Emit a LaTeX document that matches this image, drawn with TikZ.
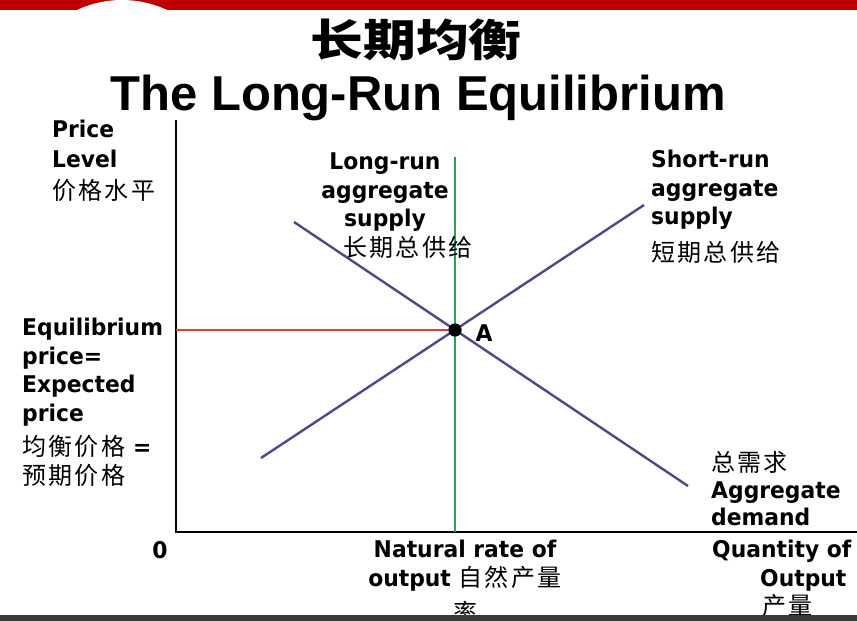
\documentclass[tikz,border=0pt]{standalone}
\usepackage{fontspec}
\setmainfont{DejaVu Sans}[FakeStretch=0.95]
\newfontfamily\cjk{Noto Sans CJK SC}[LetterSpace=10]
\newfontfamily\cjkwide{Noto Sans CJK SC}[FakeStretch=1.2]
\newfontfamily\heading{Liberation Sans}
\usepackage{tikz}
\usetikzlibrary{positioning}
\definecolor{bandred}{HTML}{C00000}
\definecolor{curveblue}{HTML}{4A4A8C}
\definecolor{lrgreen}{HTML}{2E9E5E}
\definecolor{eqred}{HTML}{E2402E}
\definecolor{bargray}{HTML}{3A3A3A}
\newcommand{\zh}[1]{{\fontsize{24}{28.5}\selectfont\cjk\mdseries #1}}

\begin{document}
\begin{tikzpicture}[x=1pt,y=-1pt,
  lbl/.style={align=left,inner sep=0pt,font=\fontsize{23}{28.5}\selectfont\bfseries},
  axis/.style={line width=2pt},
  curve/.style={draw=curveblue,line width=2.4pt},
  dot/.style={circle,fill=black,inner sep=0pt,minimum size=13pt}]
\useasboundingbox (0,0) rectangle (857,621);
% header band
\fill[bandred] (0,0) rectangle (857,10);
\begin{scope}
  \clip (0,0) rectangle (857,10);
  \fill[white] (122,106) circle (106pt);
\end{scope}
\node[inner sep=0pt,font=\fontsize{44}{46}\selectfont\cjkwide\bfseries] (zhtitle) at (416,40) {长期均衡};
\node[inner sep=0pt,anchor=base,font=\fontsize{49}{50}\selectfont\heading\bfseries] (title) at (418,110) {The Long-Run Equilibrium};
% axes
\coordinate (o) at (176,532);
\coordinate (ytop) at (176,120);
\coordinate (xend) at (857,532);
\draw[axis] (ytop) -- (o) -- (xend);
% curves
\coordinate (adtop) at (294,222);
\coordinate (adbot) at (688,486);
\coordinate (astop) at (644,205);
\coordinate (asbot) at (261,458);
\coordinate (lrtop) at (455,157);
\draw[curve] (adtop) -- (adbot);
\draw[curve] (asbot) -- (astop);
\node[dot] (A) at (455,330) {};
\draw[lrgreen,line width=2pt] (lrtop) -- (lrtop |- o);
\draw[eqred,line width=2pt] (ytop |- A) -- (A.center);
\node[dot] at (A) {};
\node[font=\fontsize{23}{24}\selectfont\bfseries] (alab) at (484,333) {A};
\node[font=\fontsize{23}{24}\selectfont\bfseries] (zero) at (160,550) {0};
% labels
\node[lbl,anchor=north west] (plevel) at (52,120) {Price\\[1.5pt]Level\\[3pt]\zh{价格水平}};
\node[lbl,align=center,anchor=north] (lras) at (385,153) {Long-run\\aggregate\\supply};
\node[lbl,anchor=north west] (lrascn) at (343,236) {\zh{长期总供给}};
\node[lbl,anchor=north west] (sras) at (651,150) {Short-run\\aggregate\\supply\\[8pt]\zh{短期总供给}};
\node[lbl,anchor=north west] (peq) at (22,318) {Equilibrium\\price=\\Expected\\price\\[6pt]\zh{均衡价格} =\\\zh{预期价格}};
\node[lbl,anchor=north west] (ad) at (711,451) {\zh{总需求}\\[-1.5pt]Aggregate\\[-1.5pt]demand};
\node[lbl,align=center,anchor=north] (yn) at (465,540) {Natural rate of\\output \zh{自然产量}\\[7pt]\zh{率}};
\node[lbl,anchor=north west] (qty) at (712,540) {Quantity of\\\hspace*{48pt}Output\\\hspace*{50pt}\zh{产量}};
% footer bar
\fill[bargray] (0,615) rectangle (857,621);
\end{tikzpicture}
\end{document}
